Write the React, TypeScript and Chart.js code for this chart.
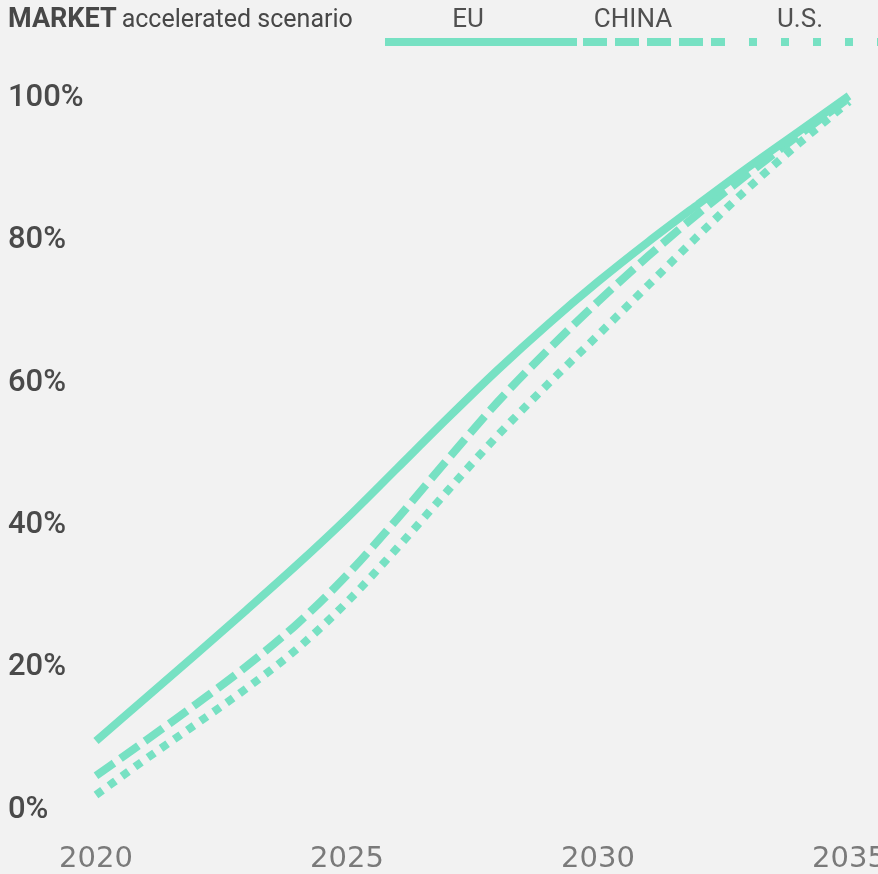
import { useEffect, useRef } from 'react';
import { Chart, registerables } from 'chart.js';

Chart.register(...registerables);

const years = [2020, 2021, 2022, 2023, 2024, 2025, 2026, 2027, 2028, 2029, 2030, 2031, 2032, 2033, 2034, 2035];
const euShare = [9.7, 15.8, 21.9, 28.1, 34.4, 41.0, 48.0, 55.0, 61.8, 68.2, 74.2, 79.8, 85.1, 90.3, 95.3, 100.3];
const chinaShare = [4.8, 9.8, 14.9, 20.2, 26.1, 33.0, 40.9, 49.2, 57.3, 64.6, 71.4, 77.8, 83.8, 89.4, 94.8, 100.0];
const usShare = [2.1, 7.2, 12.1, 17.1, 22.6, 29.2, 36.8, 44.8, 52.6, 59.8, 66.7, 73.7, 80.7, 87.4, 93.6, 99.5];

const seriesNames = ['EU', 'CHINA', 'U.S.'];
const xTickValues = [2020, 2025, 2030, 2035];
const yTickValues = [0, 20, 40, 60, 80, 100];
const yTickLabels = ['0%', '20%', '40%', '60%', '80%', '100%'];
const titleBold = 'MARKET';
const titleRest = 'accelerated scenario';

const LINE_COLOR = '#77e1c3';
const BG = '#f2f2f2';

const toPoints = (vals: number[]) => vals.map((v, i) => ({ x: years[i], y: v }));

const headerPlugin = {
  id: 'header',
  beforeDraw(chart: any) {
    const ctx = chart.ctx;
    ctx.save();
    ctx.fillStyle = BG;
    ctx.fillRect(0, 0, chart.width, chart.height);
    ctx.restore();
  },
  afterDraw(chart: any) {
    const ctx = chart.ctx;
    ctx.save();
    ctx.textAlign = 'left';
    ctx.textBaseline = 'alphabetic';
    ctx.fillStyle = '#474747';
    ctx.font = 'bold 27px Roboto';
    ctx.fillText(titleBold, 8, 27);
    const w = ctx.measureText(titleBold).width;
    ctx.font = '25px Roboto';
    ctx.fillText(titleRest, 8 + w + 5, 27);

    const slots = [
      { cx: 468, x0: 385, x1: 577 },
      { cx: 633, x0: 583, x1: 725 },
      { cx: 800, x0: 749, x1: 880 },
    ];
    const legendDash = [[], [24, 8], [8, 24]];
    chart.data.datasets.forEach((ds: any, i: number) => {
      const s = slots[i];
      ctx.fillStyle = '#505050';
      ctx.font = '26px Roboto';
      ctx.textAlign = 'center';
      ctx.fillText(ds.label, s.cx, 27);
      ctx.beginPath();
      ctx.strokeStyle = ds.borderColor;
      ctx.lineWidth = ds.borderWidth;
      ctx.lineCap = 'butt';
      ctx.setLineDash(legendDash[i]);
      ctx.moveTo(s.x0, 42);
      ctx.lineTo(s.x1, 42);
      ctx.stroke();
    });
    ctx.restore();
  },
};

export default function App() {
  const ref = useRef<HTMLCanvasElement | null>(null);

  useEffect(() => {
    document.body.style.margin = '0';
    document.body.style.background = BG;
    if (!ref.current) return;
    const common = {
      borderColor: LINE_COLOR,
      borderWidth: 8,
      pointRadius: 0,
      fill: false,
      cubicInterpolationMode: 'monotone' as const,
      clip: false as any,
      borderCapStyle: 'butt' as const,
    };
    const chart = new Chart(ref.current, {
      type: 'line',
      data: {
        datasets: [
          { ...common, label: seriesNames[0], data: toPoints(euShare), borderDash: [] },
          { ...common, label: seriesNames[1], data: toPoints(chinaShare), borderDash: [22, 8] },
          { ...common, label: seriesNames[2], data: toPoints(usShare), borderDash: [8, 8] },
        ],
      },
      options: {
        animation: false,
        responsive: false,
        devicePixelRatio: 1,
        layout: { padding: { left: 8, right: 29, top: 98, bottom: 0 } },
        plugins: { legend: { display: false }, tooltip: { enabled: false }, title: { display: false } },
        scales: {
          x: {
            type: 'linear',
            min: years[0],
            max: years[years.length - 1],
            grid: { display: false, drawTicks: false },
            border: { display: false },
            afterBuildTicks: (scale: any) => {
              scale.ticks = xTickValues.map((v) => ({ value: v }));
            },
            afterFit: (scale: any) => {
              scale.height = 64;
              scale.paddingLeft = 0;
              scale.paddingRight = 0;
            },
            ticks: {
              autoSkip: false,
              maxRotation: 0,
              padding: 35,
              color: '#7a7a7a',
              font: { family: 'DejaVu Sans', size: 29, lineHeight: 1 },
              callback: (v: any) => String(v),
            },
          },
          y: {
            type: 'linear',
            min: 0,
            max: 100,
            grid: { display: false, drawTicks: false },
            border: { display: false },
            afterBuildTicks: (scale: any) => {
              scale.ticks = yTickValues.map((v) => ({ value: v }));
            },
            afterFit: (scale: any) => {
              scale.width = 88;
              scale.paddingTop = 0;
              scale.paddingBottom = 0;
            },
            ticks: {
              crossAlign: 'far',
              color: '#4a4a4a',
              font: { family: 'Roboto', size: 31, weight: '500' },
              callback: (_v: any, i: number) => yTickLabels[i],
            },
          },
        },
      },
      plugins: [headerPlugin],
    });
    return () => chart.destroy();
  }, []);

  return (
    <div style={{ width: 878, height: 874, background: BG }}>
      <canvas ref={ref} width={878} height={874} style={{ display: 'block' }} />
    </div>
  );
}
